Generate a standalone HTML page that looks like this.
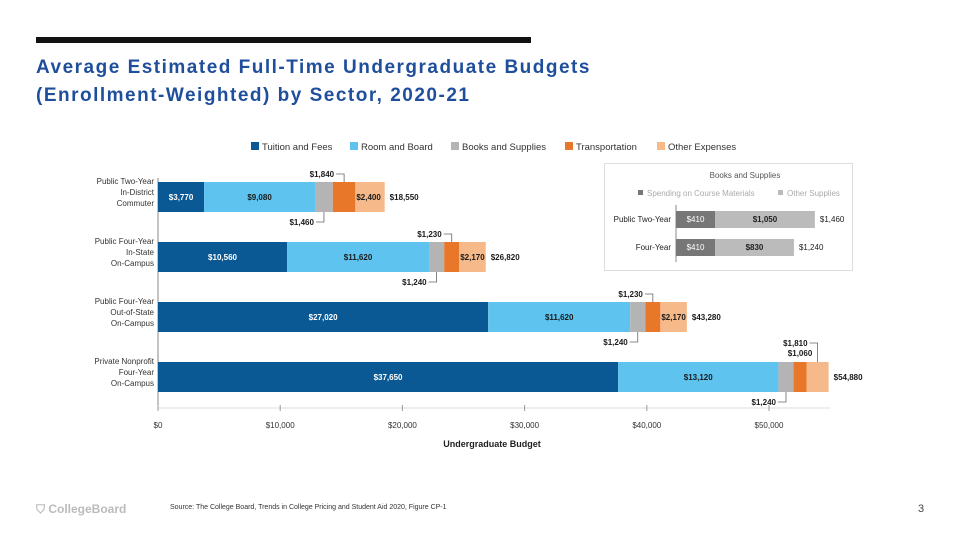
<!DOCTYPE html>
<html><head><meta charset="utf-8"><style>
body{margin:0;width:960px;height:540px;background:#fff;overflow:hidden;font-family:"Liberation Sans",sans-serif;position:relative}
.t{position:absolute;left:36px;top:54px;color:#1f4f9c;font-size:19px;font-weight:bold;line-height:28px;letter-spacing:1.5px}
</style></head><body>
<div style="position:absolute;left:36px;top:37px;width:495px;height:6px;background:#111"></div>
<div class="t">Average Estimated Full-Time Undergraduate Budgets<br>(Enrollment-Weighted) by Sector, 2020-21</div>
<svg id="c" width="960" height="540" style="position:absolute;left:0;top:0" font-family="Liberation Sans, sans-serif"></svg>
<div style="position:absolute;left:36px;top:502px;font-size:12px;color:#bbb;font-weight:bold">⛉ CollegeBoard</div>
<div style="position:absolute;left:170px;top:504px;font-size:7px;color:#333">Source: The College Board, Trends in College Pricing and Student Aid 2020, Figure CP-1</div>
<div style="position:absolute;left:918px;top:503px;font-size:11px;color:#444">3</div>
<script>
const categories=[["Public Two-Year","In-District","Commuter"],["Public Four-Year","In-State","On-Campus"],["Public Four-Year","Out-of-State","On-Campus"],["Private Nonprofit","Four-Year","On-Campus"]];
const tuition=[3770,10560,27020,37650];
const room=[9080,11620,11620,13120];
const books=[1460,1240,1240,1240];
const transport=[1840,1230,1230,1060];
const other=[2400,2170,2170,1810];
const totals=[18550,26820,43280,54880];
const ticks=[0,10000,20000,30000,40000,50000];
const seriesNames=["Tuition and Fees","Room and Board","Books and Supplies","Transportation","Other Expenses"];
const insetCats=["Public Two-Year","Four-Year"];
const insetMaterials=[410,410];
const insetOther=[1050,830];
const insetTotals=[1460,1240];

const colors=["#0b5994","#5ec4ef","#b4b4b4","#e8772a","#f6ba8a"];
const svg=document.getElementById('c');const NS="http://www.w3.org/2000/svg";
function el(t,a,txt){const e=document.createElementNS(NS,t);for(const k in a)e.setAttribute(k,a[k]);if(txt!==undefined)e.textContent=txt;svg.appendChild(e);return e;}
const fmt=v=>"$"+v.toLocaleString("en-US");
const x0=158,kx=611/50000;const X=v=>x0+v*kx;
const Y=i=>182+i*60,bh=30;
const lx=[251,350,451,565,657];
seriesNames.forEach((n,i)=>{
const r=el('rect',{x:lx[i],y:142,width:8,height:8,fill:colors[i]});

const t=el('text',{x:lx[i]+11,y:150,'font-size':9.5,fill:'#333'},n);
});
let a=el('line',{x1:x0,y1:178,x2:x0,y2:408,stroke:'#888','stroke-width':1});
a=el('line',{x1:x0,y1:408,x2:830,y2:408,stroke:'#ddd','stroke-width':1});
ticks.forEach(v=>{const l=el('line',{x1:X(v),y1:405,x2:X(v),y2:411,stroke:'#999'});
const t=el('text',{x:X(v),y:428,'font-size':8,fill:'#333','text-anchor':'middle'},fmt(v));});
const xt=el('text',{x:492,y:447,'font-size':9,'font-weight':'bold',fill:'#222','text-anchor':'middle'},"Undergraduate Budget");

const series=[tuition,room,books,transport,other];
categories.forEach((c,i)=>{
c.forEach((s,j)=>{const t=el('text',{x:154,y:Y(i)+2+j*11,'font-size':8,fill:'#333','text-anchor':'end'},s);});
let acc=0;const xs=[];
series.forEach((ser,k)=>{const v=ser[i];const r=el('rect',{x:X(acc),y:Y(i),width:v*kx,height:bh,fill:colors[k]});
xs.push([X(acc),X(acc+v)]);acc+=v;});
const cy=Y(i)+bh/2+3;
const lbl=(x,y,txt,fill,anchor)=>{const t=el('text',{x:x,y:y,'font-size':8,'font-weight':'bold',fill:fill,'text-anchor':anchor||'middle'},txt);};
lbl((xs[0][0]+xs[0][1])/2,cy,fmt(tuition[i]),'#fff');
lbl((xs[1][0]+xs[1][1])/2,cy,fmt(room[i]),'#1a1a1a');
if(i<3)lbl(xs[4][0]+1,cy,fmt(other[i]),'#1a1a1a','start');
lbl(X(totals[i])+5,cy,fmt(totals[i]),'#1a1a1a','start');
const bx=(xs[2][0]+xs[2][1])/2;
el('path',{d:`M${bx} ${Y(i)+bh} V${Y(i)+bh+10} H${bx-8}`,stroke:'#666',fill:'none','stroke-width':0.8});
lbl(bx-10,Y(i)+bh+13,fmt(books[i]),'#1a1a1a','end');
const tx=(xs[3][0]+xs[3][1])/2;
if(i<3){el('path',{d:`M${tx} ${Y(i)} V${Y(i)-8} H${tx-8}`,stroke:'#666',fill:'none','stroke-width':0.8});
lbl(tx-10,Y(i)-5,fmt(transport[i]),'#1a1a1a','end');}
else{lbl(tx,Y(i)-6,fmt(transport[i]),'#1a1a1a','middle');
const ox=(xs[4][0]+xs[4][1])/2;
el('path',{d:`M${ox} ${Y(i)} V${Y(i)-19} H${ox-8}`,stroke:'#666',fill:'none','stroke-width':0.8});
lbl(ox-10,Y(i)-16,fmt(other[i]),'#1a1a1a','end');}
});
let b=el('rect',{x:604.5,y:163.5,width:248,height:107,fill:'#fff',stroke:'#ddd'});
let t=el('text',{x:745,y:178,'font-size':8,fill:'#555','text-anchor':'middle'},"Books and Supplies");
[["Spending on Course Materials",638,"#777"],["Other Supplies",778,"#bbb"]].forEach(d=>{el('rect',{x:d[1],y:190,width:5,height:5,fill:d[2]});const q=el('text',{x:d[1]+9,y:196,'font-size':8,fill:'#aaa'},d[0]);});
const ix0=676,ik=39/410;
el('line',{x1:ix0,y1:205,x2:ix0,y2:262,stroke:'#888'});
insetCats.forEach((c,i)=>{const y=211+i*28;
let q=el('text',{x:671,y:y+11,'font-size':8,fill:'#222','text-anchor':'end'},c);
let r=el('rect',{x:ix0,y:y,width:insetMaterials[i]*ik,height:17,fill:'#777'});
r=el('rect',{x:ix0+insetMaterials[i]*ik,y:y,width:insetOther[i]*ik,height:17,fill:'#bbb'});
el('text',{x:ix0+insetMaterials[i]*ik/2,y:y+11,'font-size':8,fill:'#fff','text-anchor':'middle'},fmt(insetMaterials[i]));
el('text',{x:ix0+(insetMaterials[i]+insetOther[i]/2)*ik,y:y+11,'font-size':8,'font-weight':'bold',fill:'#222','text-anchor':'middle'},fmt(insetOther[i]));
el('text',{x:ix0+insetTotals[i]*ik+5,y:y+11,'font-size':8,fill:'#222'},fmt(insetTotals[i]));});
</script>
</body></html>
